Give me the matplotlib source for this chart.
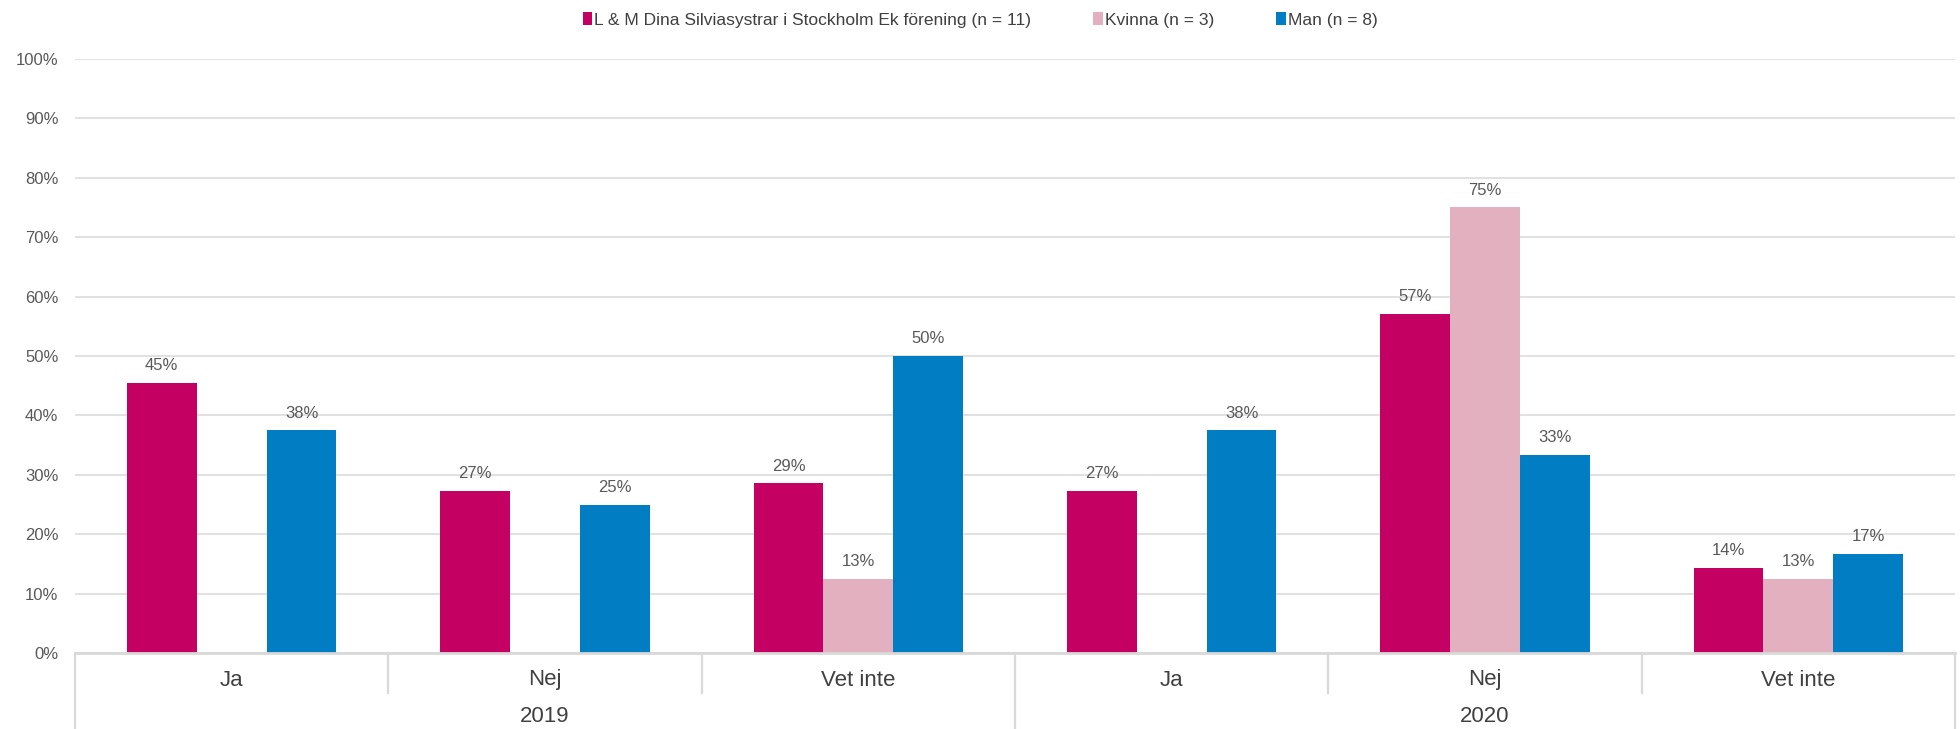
import math
import matplotlib
matplotlib.use("Agg")
import matplotlib.pyplot as plt
from matplotlib.patches import Patch

plt.rcParams["font.family"] = ["Liberation Sans", "DejaVu Sans"]

# Data
years = ["2019", "2020"]
answers = ["Ja", "Nej", "Vet inte"]
series_names = [
    "L & M Dina Silviasystrar i Stockholm Ek förening (n = 11)",
    "Kvinna (n = 3)",
    "Man (n = 8)",
]
forening = [45.45, 27.27, 28.57, 27.27, 57.14, 14.29]
kvinna = [0.0, 0.0, 12.5, 0.0, 75.0, 12.5]
man = [37.5, 25.0, 50.0, 37.5, 33.33, 16.67]
colors = ["#C40063", "#E3B0C0", "#007DC3"]

series = [forening, kvinna, man]
n_groups = len(years) * len(answers)

W, H = 1960, 729
fig = plt.figure(figsize=(W / 100, H / 100), dpi=100)
left, right, top, bottom = 75, 1955, 59, 653
ax = fig.add_axes([left / W, (H - bottom) / H, (right - left) / W, (bottom - top) / H])

bar_w = 0.223
label_color = "#595959"
for i, (vals, col) in enumerate(zip(series, colors)):
    for g, v in enumerate(vals):
        if v <= 0:
            continue
        x = g + (i - 1) * bar_w
        ax.bar(x, v, width=bar_w, color=col, edgecolor="none", zorder=3)
        ax.annotate(f"{math.floor(v + 0.5)}%", (x, v), xytext=(0, 7),
                    textcoords="offset points", ha="center", va="bottom",
                    fontsize=12, color=label_color)

ax.set_xlim(-0.5, n_groups - 0.5)
ax.set_ylim(0, 100)
ax.set_yticks(range(0, 101, 10))
ax.set_yticklabels([f"{t}%" for t in range(0, 101, 10)])
ax.tick_params(axis="y", length=0, pad=12, labelsize=12, labelcolor=label_color)
ax.set_xticks([])
ax.grid(axis="y", color="#D9D9D9", linewidth=1.1, zorder=0)
for s in ["top", "right", "left"]:
    ax.spines[s].set_visible(False)
ax.spines["bottom"].set_color("#D9D9D9")
ax.spines["bottom"].set_linewidth(2)
ax.spines["bottom"].set_zorder(4)

# Multi-level category axis
tr = ax.get_xaxis_transform()
axis_h = bottom - top
inner_end = -(693 - bottom) / axis_h
outer_end = -(H - bottom) / axis_h
for b in range(n_groups + 1):
    xb = b - 0.5
    end = outer_end if b % len(answers) == 0 else inner_end
    ax.plot([xb, xb], [0, end], transform=tr, color="#D9D9D9", lw=1.6,
            clip_on=False, zorder=1)

cat_y = -(680 - bottom) / axis_h
year_y = -(717 - bottom) / axis_h
for g in range(n_groups):
    ax.text(g, cat_y, answers[g % len(answers)], transform=tr, ha="center",
            va="center", fontsize=16, color="#404040")
for k, yr in enumerate(years):
    xc = k * len(answers) + (len(answers) - 1) / 2
    ax.text(xc, year_y, yr, transform=tr, ha="center", va="center",
            fontsize=16, color="#404040")

handles = [Patch(facecolor=c, edgecolor="none") for c in colors]
fig.legend(handles, series_names, loc="center", bbox_to_anchor=(0.5, 1 - 20 / H),
           ncol=3, frameon=False, fontsize=12.5, handlelength=0.55, handleheight=0.7,
           handletextpad=0.1, columnspacing=3.6, labelcolor="#404040",
           borderpad=0, borderaxespad=0)

fig.savefig("out.png", dpi=100, facecolor="white")
